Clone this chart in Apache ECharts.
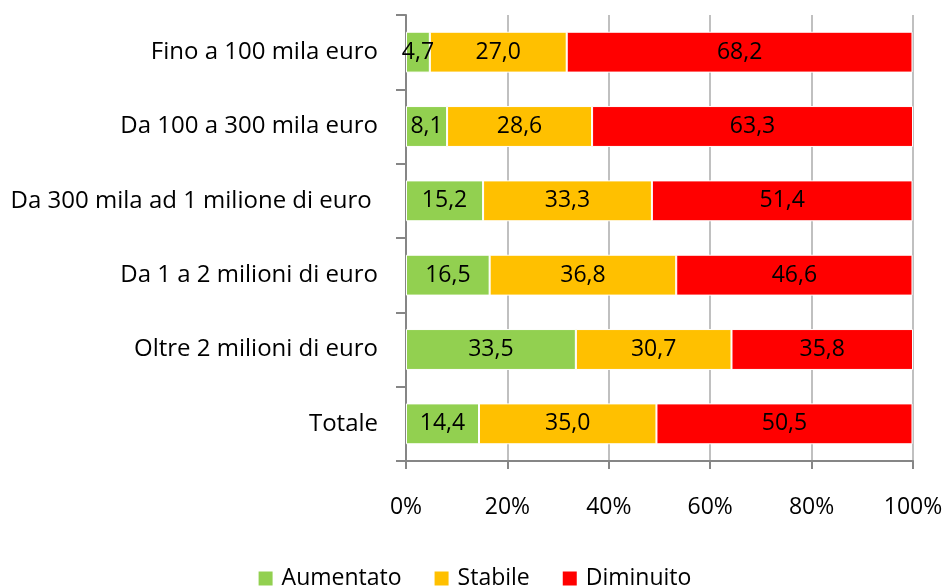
<!DOCTYPE html>
<html>
<head>
<meta charset="utf-8">
<script src="https://cdn.jsdelivr.net/npm/echarts@6/dist/echarts.min.js"></script>
<style>
  html, body { margin: 0; padding: 0; background: #fff; }
  #main { width: 948px; height: 588px; }
</style>
</head>
<body>
<div id="main"></div>
<script>
// categorie (dall'alto in basso)
var categories = [
  'Fino a 100 mila euro',
  'Da 100 a 300 mila euro',
  'Da 300 mila ad 1 milione di euro ',
  'Da 1 a 2 milioni di euro',
  'Oltre 2 milioni di euro',
  'Totale'
];
var aumentato = [4.7, 8.1, 15.2, 16.5, 33.5, 14.4];
var stabile = [27.0, 28.6, 33.3, 36.8, 30.7, 35.0];
var diminuito = [68.2, 63.3, 51.4, 46.6, 35.8, 50.5];
var xTicks = [0, 20, 40, 60, 80, 100];

var font = 'Open Sans';

var chart = echarts.init(document.getElementById('main'), null, { renderer: 'canvas' });

function serie(name, data, color) {
  return {
    name: name,
    type: 'bar',
    stack: 'tot',
    data: data,
    barCategoryGap: '45%',
    itemStyle: { color: color, borderColor: '#fff', borderWidth: 1 },
    label: {
      show: true,
      position: 'inside',
      color: '#000',
      fontFamily: font,
      fontSize: 23,
      padding: [4, 0, 0, 0],
      formatter: function (p) { return p.value.toFixed(1).replace('.', ','); }
    }
  };
}

var option = {
  animation: false,
  grid: { left: 406, right: 35, top: 15, bottom: 127 },
  legend: {
    bottom: -7,
    left: 'center',
    itemWidth: 16,
    itemHeight: 16,
    itemGap: 31,
    icon: 'rect',
    textStyle: { fontFamily: font, fontSize: 23, color: '#000', padding: [0, 0, 0, 3] },
    data: ['Aumentato', 'Stabile', 'Diminuito']
  },
  xAxis: {
    type: 'value',
    min: 0,
    max: 100,
    interval: 20,
    axisLine: { show: true, lineStyle: { color: '#868686', width: 2 } },
    axisTick: { show: true, length: 8, lineStyle: { color: '#868686', width: 2 } },
    splitLine: { show: true, lineStyle: { color: '#c0c0c0', width: 2 } },
    axisLabel: {
      margin: 35,
      color: '#000',
      fontFamily: font,
      fontSize: 23,
      formatter: function (v) { return xTicks.indexOf(v) >= 0 ? v + '%' : ''; }
    }
  },
  yAxis: {
    type: 'category',
    inverse: true,
    data: categories,
    axisLine: { show: true, lineStyle: { color: '#868686', width: 2 } },
    axisTick: { show: true, length: 10, lineStyle: { color: '#868686', width: 2 } },
    axisLabel: {
      margin: 28,
      color: '#000',
      fontFamily: font,
      fontSize: 24,
      padding: [4, 0, 0, 0]
    }
  },
  series: [
    serie('Aumentato', aumentato, '#92D050'),
    serie('Stabile', stabile, '#FFC000'),
    serie('Diminuito', diminuito, '#FF0000')
  ]
};

chart.setOption(option);
</script>
</body>
</html>
